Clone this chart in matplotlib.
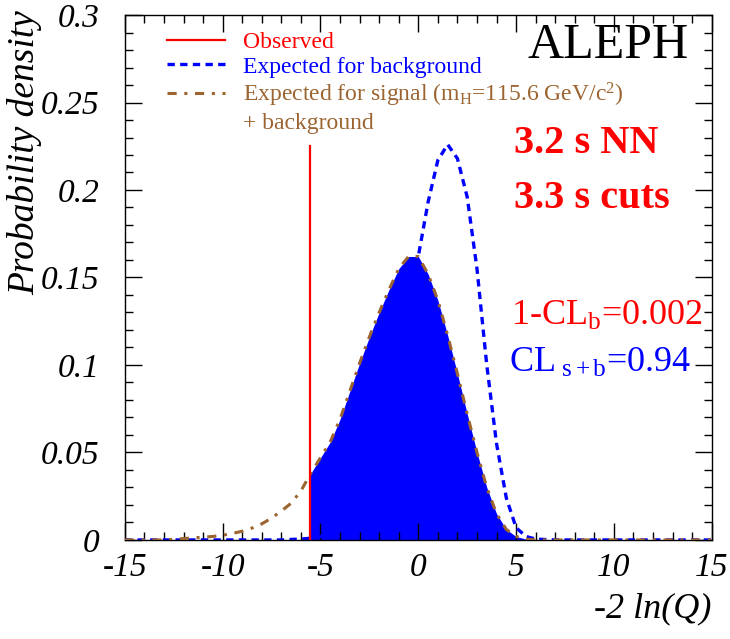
import matplotlib
matplotlib.use('Agg')
import matplotlib.pyplot as plt
from matplotlib.ticker import MultipleLocator, FuncFormatter
from matplotlib.lines import Line2D
import numpy as np

plt.rcParams['font.family'] = 'Liberation Serif'
plt.rcParams['mathtext.fontset'] = 'custom'
plt.rcParams['mathtext.rm'] = 'Liberation Serif'
plt.rcParams['mathtext.it'] = 'Liberation Serif:italic'
plt.rcParams['axes.unicode_minus'] = False

# -2 ln(Q) grid and densities
q = [-15, -14, -13, -12, -11.5, -11, -10.5, -10, -9.5, -9, -8.5, -8, -7.5, -7,
     -6.5, -6, -5.5, -5, -4.5, -4, -3.5, -3, -2.5, -2, -1.5, -1, -0.5, 0,
     0.5, 1, 1.5, 2, 2.5, 3, 3.5, 4, 4.5, 5, 5.5, 6, 7, 8, 10, 12, 15]
sig_bkg = [0, 0, 0, 0.0008, 0.0012, 0.0016, 0.002, 0.0027, 0.0037, 0.005, 0.0068, 0.0092, 0.0125, 0.0165,
           0.021, 0.028, 0.038, 0.047, 0.056, 0.069, 0.085, 0.101, 0.116, 0.130, 0.143, 0.155, 0.162, 0.162,
           0.152, 0.137, 0.117, 0.095, 0.072, 0.050, 0.030, 0.015, 0.006, 0.002, 0.0005, 0, 0, 0, 0, 0, 0]
bkg = [0, 0, 0, 0, 0, 0, 0, 0, 0, 0, 0, 0, 0, 0,
       0.0003, 0.0005, 0.001, 0.002, 0.004, 0.007, 0.012, 0.020, 0.033, 0.050, 0.073, 0.100, 0.130, 0.162,
       0.193, 0.217, 0.226, 0.218, 0.196, 0.155, 0.100, 0.055, 0.024, 0.007, 0.002, 0.0005, 0, 0, 0, 0, 0]
observed = -5.54
obs_top = 0.225

red = '#ff0000'
blue = '#0000ff'
brown = '#9c6430'

fig = plt.figure(figsize=(7.3, 6.39), dpi=100)
ax = fig.add_axes([0.171, 0.155, 0.804, 0.8215])

q = np.array(q)
sb = np.array(sig_bkg)
b = np.array(bkg)

# shaded CL_s+b area right of the observed value
mask = q > observed
qf = np.concatenate([[observed], q[mask]])
sf = np.concatenate([[np.interp(observed, q, sb)], sb[mask]])
ax.fill_between(qf, 0, sf, color=blue, lw=0, zorder=1)

l_b, = ax.plot(q, b, color=blue, ls=(0, (2.2, 1.6)), lw=2.4, zorder=2)
l_sb, = ax.plot(q, sb, color=brown, ls=(0, (3, 2.5, 1, 2.5)), lw=2.2, zorder=3)
l_obs, = ax.plot([observed, observed], [0, obs_top], color=red, lw=1.6, zorder=4)

ax.set_xlim(-15, 15)
ax.set_ylim(0, 0.3)
ax.xaxis.set_major_locator(MultipleLocator(5))
ax.xaxis.set_minor_locator(MultipleLocator(1))
ax.yaxis.set_major_locator(MultipleLocator(0.05))
ax.yaxis.set_minor_locator(MultipleLocator(0.01))
ax.yaxis.set_major_formatter(FuncFormatter(lambda v, p: '%g' % round(v, 3)))
ax.xaxis.set_major_formatter(FuncFormatter(lambda v, p: '%d' % v))
ax.tick_params(which='both', direction='in', top=True, right=True, width=1)
ax.tick_params(which='major', length=12)
ax.tick_params(which='minor', length=6)
ax.tick_params(axis='x', which='major', pad=9)
ax.tick_params(axis='y', which='major', pad=18)
for lab in ax.get_xticklabels() + ax.get_yticklabels():
    lab.set_fontsize(24)
    lab.set_style('italic')
for s in ax.spines.values():
    s.set_linewidth(1.0)

ax.set_ylabel('Probability density', fontsize=27, style='italic', loc='top')
ax.yaxis.set_label_coords(-0.141, 1.0095)
ax.set_xlabel('-2 ln(Q)', fontsize=26, style='italic', loc='right')
ax.xaxis.set_label_coords(1.0, -0.1)

blank = Line2D([], [], color='none')
leg = ax.legend([l_obs, l_b, l_sb, blank],
                ['Observed', 'Expected for background',
                 r'Expected for signal (m$_{\mathrm{H}}$=115.6 GeV/c$^{\mathrm{2}}$)', '+ background'],
                loc='upper left', bbox_to_anchor=(0.072, 0.969), frameon=False,
                fontsize=17, handlelength=2.45, handletextpad=0.75, labelspacing=0.14,
                borderpad=0, borderaxespad=0,
                labelcolor=[red, blue, brown, brown])

ax.text(0.961, 0.941, 'ALEPH', transform=ax.transAxes, fontsize=36,
        ha='right', va='center')
ax.text(0.663, 0.756, '3.2 s NN', transform=ax.transAxes, fontsize=29,
        fontweight='bold', color=red, ha='left', va='center')
ax.text(0.663, 0.651, '3.3 s cuts', transform=ax.transAxes, fontsize=29,
        fontweight='bold', color=red, ha='left', va='center')
ax.text(0.658, 0.41, r'1-CL$_{\mathrm{b}}$=0.002', transform=ax.transAxes,
        fontsize=26, color=red, ha='left', va='baseline')
ax.text(0.655, 0.32, r'CL$_{\mathrm{\ s+b}}$=0.94', transform=ax.transAxes,
        fontsize=26, color=blue, ha='left', va='baseline')

fig.savefig('out.png', dpi=100)
